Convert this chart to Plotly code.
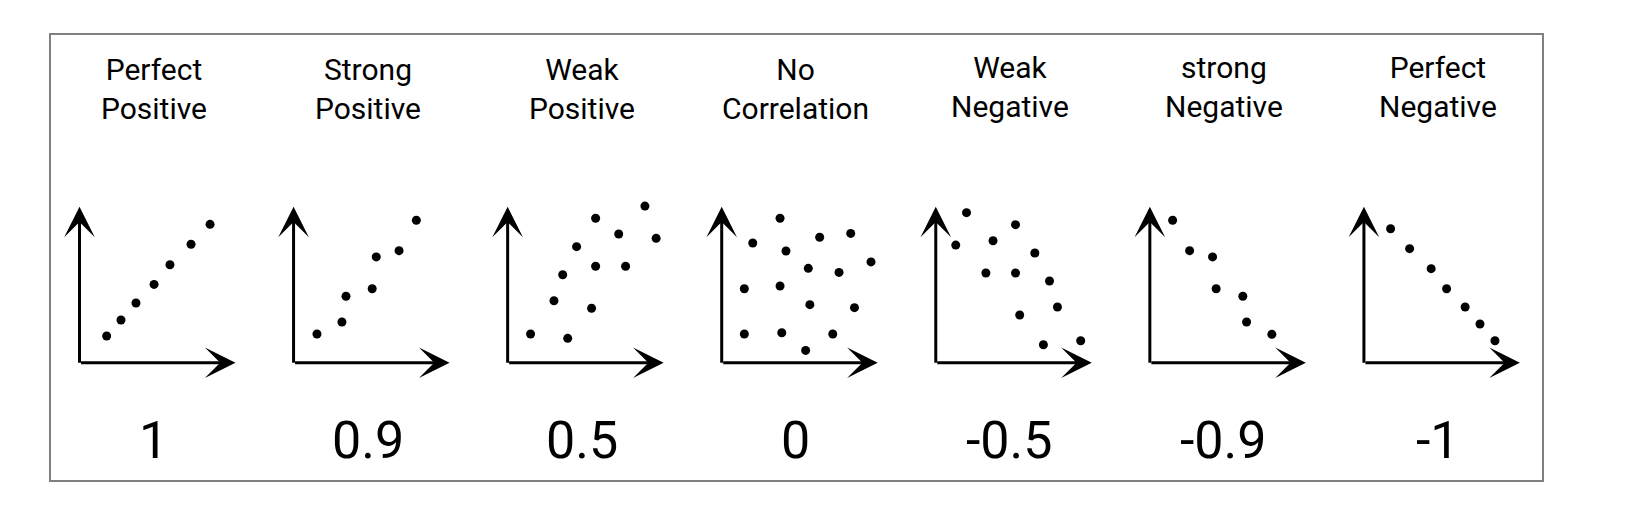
import plotly.graph_objects as go

W, H = 1628, 516

# ---- data ----
titles = ["Perfect<br>Positive", "Strong<br>Positive", "Weak<br>Positive",
          "No<br>Correlation", "Weak<br>Negative", "strong<br>Negative",
          "Perfect<br>Negative"]
coef_labels = ["1", "0.9", "0.5", "0", "-0.5", "-0.9", "-1"]

perfect_pos_x = [17.4, 26.6, 36.2, 47.8, 58.0, 71.5, 83.7]
perfect_pos_y = [17.1, 27.4, 38.3, 50.2, 62.8, 75.9, 88.7]

strong_pos_x = [15.0, 31.0, 33.6, 50.4, 53.0, 67.6, 78.7]
strong_pos_y = [18.4, 26.1, 42.6, 47.4, 67.8, 71.8, 91.3]

weak_pos_x = [14.7, 38.5, 29.7, 35.3, 44.2, 56.4, 56.4, 53.8, 71.2, 75.6, 88.0, 95.2]
weak_pos_y = [18.4, 15.6, 39.7, 56.4, 74.4, 92.6, 61.8, 34.9, 82.5, 61.8, 100.4, 79.7]

no_corr_x = [37.4, 19.9, 41.2, 62.8, 82.7, 95.7, 55.5, 75.2, 14.5, 37.4, 56.5, 85.1,
             14.5, 38.5, 71.2, 53.8]
no_corr_y = [92.6, 76.7, 71.6, 80.4, 82.9, 64.6, 60.5, 57.9, 47.4, 49.2, 37.2, 35.3,
             18.4, 19.2, 18.4, 7.9]

weak_neg_x = [19.7, 12.8, 36.7, 51.1, 63.5, 32.1, 51.1, 72.9, 78.0, 53.8, 69.0, 92.9]
weak_neg_y = [96.2, 75.4, 78.2, 88.5, 70.3, 57.5, 57.5, 52.4, 35.7, 30.6, 11.5, 14.1]

strong_neg_x = [14.6, 25.5, 40.2, 42.5, 59.6, 62.0, 78.2]
strong_neg_y = [91.3, 71.8, 67.8, 47.4, 42.6, 26.1, 18.2]

perfect_neg_x = [17.1, 29.3, 43.1, 53.0, 64.9, 74.4, 84.0]
perfect_neg_y = [85.9, 73.1, 60.3, 47.4, 35.7, 24.8, 14.1]

panels_x = [perfect_pos_x, strong_pos_x, weak_pos_x, no_corr_x,
            weak_neg_x, strong_neg_x, perfect_neg_x]
panels_y = [perfect_pos_y, strong_pos_y, weak_pos_y, no_corr_y,
            weak_neg_y, strong_neg_y, perfect_neg_y]

AXIS_LEN = 100  # length of drawn axis arrows in data units

# ---- layout geometry (pixels) ----
PX_PER_UNIT = 1.56
RMIN, RMAX = -15, 115
ORIGIN_Y_PX = 362.7          # pixel row of the x-axis (from top)
FIRST_ORIGIN_X = 79.5
PANEL_STEP = 214.07
LABEL_OFFSET_UNITS = 74 / PX_PER_UNIT
TITLE_Y_PX = [89, 89, 89, 89, 87, 87, 87]

fig = go.Figure()
annotations = []

for i in range(7):
    n = i + 1
    xa = "x" if n == 1 else f"x{n}"
    ya = "y" if n == 1 else f"y{n}"
    ox = FIRST_ORIGIN_X + PANEL_STEP * i
    x0 = (ox + RMIN * PX_PER_UNIT) / W
    x1 = (ox + RMAX * PX_PER_UNIT) / W
    oy_b = H - ORIGIN_Y_PX
    y0 = (oy_b + RMIN * PX_PER_UNIT) / H
    y1 = (oy_b + RMAX * PX_PER_UNIT) / H
    axis_common = dict(range=[RMIN, RMAX], visible=False, fixedrange=True,
                       showgrid=False, zeroline=False)
    fig.update_layout(**{
        f"xaxis{'' if n == 1 else n}": dict(domain=[x0, x1], anchor=ya, **axis_common),
        f"yaxis{'' if n == 1 else n}": dict(domain=[y0, y1], anchor=xa, **axis_common),
    })
    fig.add_trace(go.Scatter(
        x=panels_x[i], y=panels_y[i], mode="markers", xaxis=xa, yaxis=ya,
        marker=dict(color="#000000", size=9, line=dict(width=0)),
        cliponaxis=False, showlegend=False, hoverinfo="skip"))

    half = 1.5 / PX_PER_UNIT
    # y-axis arrow
    annotations.append(dict(
        x=0, y=AXIS_LEN, ax=0, ay=-half, xref=xa, yref=ya, axref=xa, ayref=ya,
        showarrow=True, arrowhead=3, arrowwidth=3, arrowsize=1.7,
        arrowcolor="#000000", text=""))
    # x-axis arrow
    annotations.append(dict(
        x=AXIS_LEN, y=0, ax=0, ay=0, xref=xa, yref=ya, axref=xa, ayref=ya,
        showarrow=True, arrowhead=3, arrowwidth=3, arrowsize=1.7,
        arrowcolor="#000000", text=""))
    # title
    annotations.append(dict(
        x=LABEL_OFFSET_UNITS, y=1 - TITLE_Y_PX[i] / H, xref=xa, yref="paper",
        text=titles[i], showarrow=False, xanchor="center", yanchor="middle",
        font=dict(family="Roboto", size=30, color="#000000")))
    # coefficient label
    annotations.append(dict(
        x=LABEL_OFFSET_UNITS, y=1 - 440 / H, xref=xa, yref="paper",
        text=coef_labels[i], showarrow=False, xanchor="center", yanchor="middle",
        font=dict(family="Roboto", size=52, color="#000000")))

fig.update_layout(
    width=W, height=H,
    margin=dict(l=0, r=0, t=0, b=0),
    paper_bgcolor="#ffffff", plot_bgcolor="rgba(0,0,0,0)",
    showlegend=False,
    annotations=annotations,
    shapes=[dict(type="rect", xref="paper", yref="paper",
                 x0=50 / W, x1=1543 / W, y0=1 - 481 / H, y1=1 - 34 / H,
                 line=dict(color="#808080", width=2), fillcolor="rgba(0,0,0,0)",
                 layer="below")],
)

fig.write_html("out.html", config={"displayModeBar": False, "staticPlot": True},
               post_script="document.body.style.margin='0';document.body.style.overflow='hidden';")
